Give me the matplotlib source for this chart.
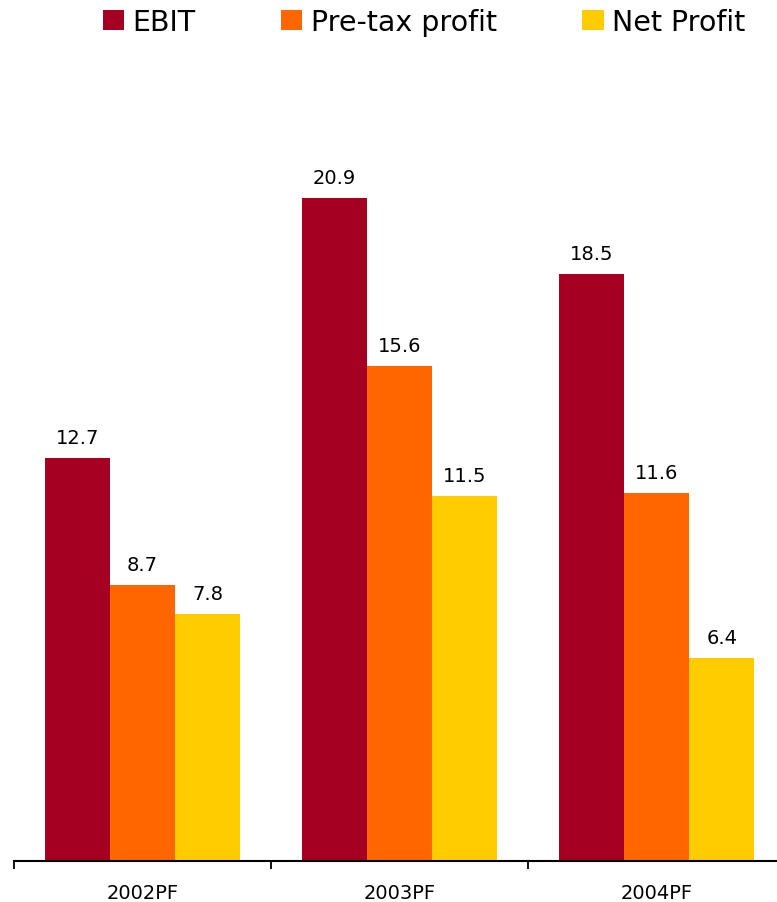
import matplotlib
matplotlib.use('Agg')
import matplotlib.pyplot as plt
import numpy as np

years = ["2002PF", "2003PF", "2004PF"]
series = ["EBIT", "Pre-tax profit", "Net Profit"]
ebit = [12.7, 20.9, 18.5]
pretax = [8.7, 15.6, 11.6]
net = [7.8, 11.5, 6.4]
colors = ["#A50021", "#FF6600", "#FFCC00"]


def main():
    fig = plt.figure(figsize=(7.77, 9.03), dpi=100)
    ax = fig.add_axes([14 / 777, 41 / 903, 763 / 777, 761 / 903])

    x = np.arange(len(years)) + 0.5
    w = 0.254
    bars = []
    for k, vals in enumerate([ebit, pretax, net]):
        b = ax.bar(x + (k - 1) * w, vals, w, color=colors[k], label=series[k])
        bars.append(b)
        for xi, v in zip(x + (k - 1) * w, vals):
            ax.annotate("%.1f" % v, (xi, v), xytext=(0, 8), textcoords="offset points",
                        ha="center", va="bottom", fontsize=14)

    ax.set_xlim(0, 763 / 257)
    ax.set_ylim(0, 24)
    ax.set_yticks([])
    ax.set_xticks(x)
    ax.set_xticklabels(years, fontsize=14)
    ax.tick_params(axis="x", which="major", length=0, pad=16)
    ax.set_xticks([0, 1, 2], minor=True)
    ax.tick_params(axis="x", which="minor", length=6, width=1.3, direction="out")
    for s in ["top", "right", "left"]:
        ax.spines[s].set_visible(False)
    ax.spines["bottom"].set_linewidth(1.5)

    fig.legend(handles=bars, labels=series, loc="center", bbox_to_anchor=(424 / 777, 1 - 23 / 903),
               ncol=3, frameon=False, fontsize=20.5, handlelength=0.75, handleheight=0.75,
               handletextpad=0.3, columnspacing=3.0)

    plt.savefig("out.png", dpi=100)


if __name__ == '__main__':
    main()
